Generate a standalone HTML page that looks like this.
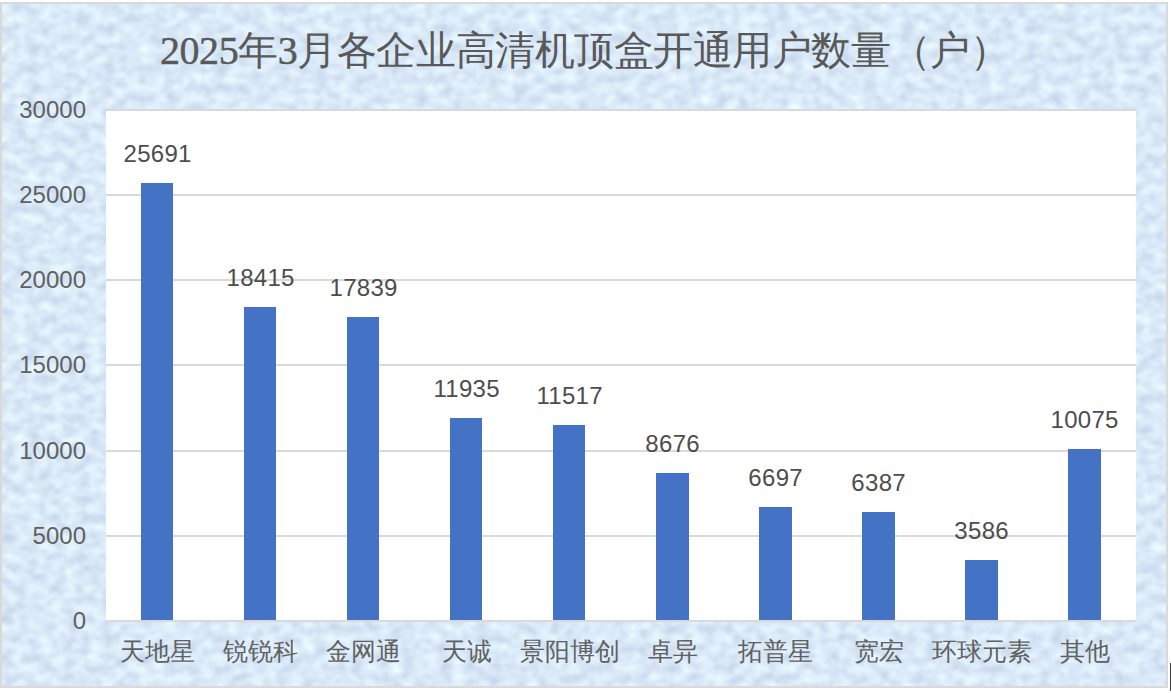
<!DOCTYPE html>
<html><head><meta charset="utf-8">
<style>
html,body{margin:0;padding:0;}
body{width:1171px;height:693px;position:relative;overflow:hidden;background:#fff;font-family:"Liberation Sans",sans-serif;}
.chart{position:absolute;left:0;top:2px;width:1168px;height:686px;box-sizing:border-box;border:2px solid #d9d9d9;background:#dceaf7;overflow:hidden;}
.chart svg{position:absolute;left:0;top:0;}
.title{position:absolute;left:160px;top:27px;font-family:"Liberation Serif",serif;font-size:40px;line-height:48px;letter-spacing:-0.45px;color:#595959;white-space:nowrap;}
.dg{-webkit-text-stroke:0.45px #595959;}
.plot{position:absolute;left:106px;top:109px;width:1030px;height:513px;background:#fff;}
.gl{position:absolute;left:106px;width:1030px;height:2px;background:#d9d9d9;}
.bar{position:absolute;background:#4472c4;}
.dl{position:absolute;width:120px;text-align:center;font-size:24px;line-height:29px;color:#4d4d4d;letter-spacing:0.3px;text-indent:0.3px;white-space:nowrap;}
.yl{position:absolute;left:0;width:86px;text-align:right;font-size:24px;line-height:28px;color:#606060;}
.xl{position:absolute;top:636.5px;width:160px;text-align:center;font-size:25px;line-height:29px;color:#606060;white-space:nowrap;}
.caret{position:absolute;left:1170px;top:663px;width:1px;height:28px;background:#3c3c3c;}
</style></head><body>
<div class="chart"><svg width="1164" height="682">
<filter id="tx" x="0" y="0" width="100%" height="100%" color-interpolation-filters="sRGB">
<feTurbulence type="fractalNoise" baseFrequency="0.08 0.1" numOctaves="2" seed="11"/>
<feGaussianBlur stdDeviation="1.2"/>
<feColorMatrix type="matrix" values="0.22 0 0 0 0.741  0.22 0 0 0 0.804  0.14 0 0 0 0.900  0 0 0 0 1"/>
</filter>
<rect width="1164" height="682" filter="url(#tx)"/></svg></div>
<div class="title"><span class="dg">2025</span>年<span class="dg">3</span>月各企业高清机顶盒开通用户数量（户）</div>
<div class="plot"></div>
<div class="gl" style="top:109px"></div><div class="gl" style="top:194px"></div><div class="gl" style="top:279px"></div><div class="gl" style="top:364px"></div><div class="gl" style="top:450px"></div><div class="gl" style="top:535px"></div>
<div class="bar" style="left:141px;width:32px;top:183px;height:437px"></div><div class="bar" style="left:244px;width:32px;top:307px;height:313px"></div><div class="bar" style="left:347px;width:32px;top:317px;height:303px"></div><div class="bar" style="left:450px;width:32px;top:418px;height:202px"></div><div class="bar" style="left:553px;width:32px;top:425px;height:195px"></div><div class="bar" style="left:656px;width:33px;top:473px;height:147px"></div><div class="bar" style="left:759px;width:33px;top:507px;height:113px"></div><div class="bar" style="left:862px;width:33px;top:512px;height:108px"></div><div class="bar" style="left:965px;width:33px;top:560px;height:60px"></div><div class="bar" style="left:1068px;width:33px;top:449px;height:171px"></div>
<div class="gl" style="top:620px"></div>
<div class="dl" style="left:97.5px;top:139.4px">25691</div><div class="dl" style="left:200.5px;top:263.3px">18415</div><div class="dl" style="left:303.5px;top:273.1px">17839</div><div class="dl" style="left:406.5px;top:373.7px">11935</div><div class="dl" style="left:509.5px;top:380.8px">11517</div><div class="dl" style="left:612.5px;top:429.2px">8676</div><div class="dl" style="left:715.5px;top:462.9px">6697</div><div class="dl" style="left:818.5px;top:468.2px">6387</div><div class="dl" style="left:921.5px;top:515.9px">3586</div><div class="dl" style="left:1024.5px;top:405.4px">10075</div>
<div class="yl" style="top:96px">30000</div><div class="yl" style="top:181px">25000</div><div class="yl" style="top:266px">20000</div><div class="yl" style="top:351px">15000</div><div class="yl" style="top:437px">10000</div><div class="yl" style="top:522px">5000</div><div class="yl" style="top:607px">0</div>
<div class="xl" style="left:77.5px">天地星</div><div class="xl" style="left:180.5px">锐锐科</div><div class="xl" style="left:283.5px">金网通</div><div class="xl" style="left:386.5px">天诚</div><div class="xl" style="left:489.5px">景阳博创</div><div class="xl" style="left:592.5px">卓异</div><div class="xl" style="left:695.5px">拓普星</div><div class="xl" style="left:798.5px">宽宏</div><div class="xl" style="left:901.5px">环球元素</div><div class="xl" style="left:1004.5px">其他</div>
<div class="caret"></div>
</body></html>
